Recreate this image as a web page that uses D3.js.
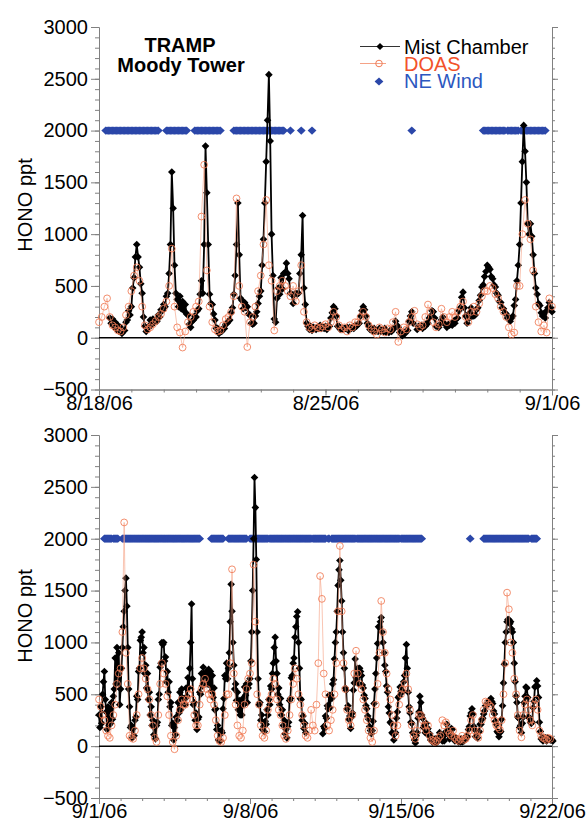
<!DOCTYPE html>
<html>
<head>
<meta charset="utf-8">
<script src="https://cdn.jsdelivr.net/npm/d3@7"></script>
<style>
  body { margin: 0; background: #fff; }
  svg { font-family: "Liberation Sans", Arial, Helvetica, sans-serif; }
</style>
</head>
<body>
<div id="chart"></div>
<script>
// ---- data: hourly mist chamber, 2-hourly DOAS, NE wind periods (hours from panel start) ----
const topStart = new Date(Date.UTC(2006, 7, 18));
const topEnd = new Date(Date.UTC(2006, 8, 1));
const topTickDates = [new Date(Date.UTC(2006, 7, 18)), new Date(Date.UTC(2006, 7, 25)), new Date(Date.UTC(2006, 8, 1))];
const topTickLabels = ["8/18/06", "8/25/06", "9/1/06"];

const topMist = [
  null,null,null,null,null,null,null,null,190,140,180,110,150,80,120,60,100,40,70,70,150,170,260,220,
  300,480,580,780,900,780,680,520,430,200,110,60,90,110,170,120,180,150,170,160,220,200,270,260,
  320,300,400,430,620,900,1600,1250,700,430,370,300,400,280,350,260,320,230,220,130,100,160,170,210,
  200,260,280,420,550,430,900,1850,1400,900,420,330,320,230,170,90,90,40,70,60,90,90,130,140,
  160,170,240,290,420,600,900,1300,800,380,360,280,340,290,300,230,220,140,130,140,210,250,330,400,
  450,700,950,1300,1700,2100,2540,1900,1000,600,180,150,380,480,420,580,470,620,630,720,620,570,430,420,
  330,420,430,420,430,620,800,1180,480,320,140,110,80,110,70,100,90,80,100,90,120,90,100,90,
  110,80,110,110,190,240,300,280,210,110,110,80,90,80,90,90,100,70,100,90,100,90,120,110,
  130,140,210,260,300,270,210,140,110,80,90,60,90,60,70,60,90,60,70,60,90,50,60,50,
  70,60,90,90,160,120,100,50,50,20,50,40,70,70,160,210,250,140,null,null,80,110,110,120,
  90,120,110,140,140,190,210,260,250,190,110,110,100,130,170,200,140,130,100,130,120,130,120,160,
  140,180,190,260,290,390,440,290,210,140,180,240,290,210,210,220,270,290,360,410,490,510,590,640,
  700,680,660,590,570,510,490,430,410,350,340,290,280,240,230,190,190,160,190,210,310,370,550,700,
  900,1300,1700,2050,1800,1500,1100,1000,1100,980,800,620,480,420,330,310,240,210,230,190,260,290,340,290,
  250
];

const topDoas = [
  150,200,300,380,200,120,100,70,60,100,220,300,
  450,600,680,550,300,120,80,100,130,160,200,230,
  280,350,500,860,300,100,50,-95,60,150,200,250,
  300,350,1170,1670,650,300,150,80,60,70,120,180,
  200,250,400,1345,500,300,250,-90,150,200,300,450,
  600,900,1330,700,550,70,450,500,550,500,450,400,
  500,350,450,700,250,150,100,80,120,100,90,110,
  130,100,150,250,200,120,80,100,60,120,100,150,
  150,200,250,200,120,90,60,30,100,80,50,90,
  80,150,250,-40,60,100,80,150,200,260,130,100,
  120,200,320,250,150,100,130,280,200,150,200,250,
  200,250,300,350,200,150,250,300,250,330,400,450,
  450,500,480,420,380,300,250,200,100,30,50,500,
  500,1000,1330,1100,950,650,300,150,60,120,50,380,
  300
];

const topWind = [[5,44],[50,65],[71,90],[100,137],[142,142],[150,150],[158,158],[232,232],[285,301],[303,311],[313,331]];

const botStart = new Date(Date.UTC(2006, 8, 1));
const botEnd = new Date(Date.UTC(2006, 8, 22));
const botTickDates = [new Date(Date.UTC(2006, 8, 1)), new Date(Date.UTC(2006, 8, 8)), new Date(Date.UTC(2006, 8, 15)), new Date(Date.UTC(2006, 8, 22))];
const botTickLabels = ["9/1/06", "9/8/06", "9/15/06", "9/22/06"];

const botMist = [
  300,180,380,220,500,620,720,450,330,160,380,200,350,220,420,260,480,550,850,600,950,650,900,400,
  550,750,950,1150,1300,1500,1620,1350,950,550,380,180,200,80,170,100,250,280,480,450,720,750,1020,1050,
  1100,900,950,700,780,560,700,450,520,300,380,200,250,110,180,70,200,230,450,500,760,800,1000,980,
  1000,820,860,620,720,520,620,380,420,200,220,60,180,110,280,250,420,320,520,350,550,420,460,450,
  400,560,480,660,560,750,1000,1370,650,400,420,250,320,160,260,280,520,500,700,580,760,600,700,600,
  720,600,740,590,720,530,680,470,560,350,360,160,200,60,140,50,150,130,360,460,680,650,800,650,
  750,900,1200,1560,1300,1000,780,550,600,440,520,350,440,300,390,300,460,400,570,490,600,420,560,600,
  650,820,1100,1500,2000,2590,2300,1800,1100,650,400,420,250,300,160,190,140,240,210,350,300,450,400,580,
  550,700,800,950,1050,820,700,500,560,400,460,300,350,200,250,120,160,80,190,230,440,460,660,680,
  800,850,1050,1150,1250,1296,1000,750,460,450,250,290,170,220,130,null,null,null,null,null,null,null,null,null,
  null,null,null,null,null,null,null,null,null,120,190,170,290,270,390,360,490,370,490,460,600,640,840,1000,
  1100,1300,1550,1700,1790,1600,1400,1100,900,750,560,540,360,390,260,290,170,280,320,540,610,840,660,640,
  750,600,750,720,680,590,560,490,460,390,360,290,260,190,150,120,150,240,410,550,700,850,990,1150,
  1150,1200,1240,1100,1000,900,780,720,580,520,380,320,230,220,130,120,60,120,130,270,330,470,480,570,
  530,520,530,620,680,850,980,750,520,380,320,230,220,130,120,60,30,100,130,270,330,480,420,300,
  270,180,200,130,220,160,170,100,120,60,80,40,60,40,70,30,40,50,90,130,90,90,50,60,
  50,110,140,210,140,110,70,130,170,160,90,90,50,80,70,70,40,50,40,70,40,50,50,80,
  70,100,90,160,190,290,320,360,310,190,160,90,90,80,130,140,210,210,260,270,310,340,390,390,
  410,410,440,430,460,430,410,340,310,240,210,140,130,90,130,140,260,390,610,790,1000,1100,1200,1220,
  1220,1180,1200,1130,1100,1000,800,620,480,420,280,270,180,200,130,220,280,420,480,570,560,470,280,270,
  230,220,230,370,430,570,580,630,580,470,230,140,70,80,50,80,70,80,50,80,70,70,60,60,
  60,50
];

const botDoas = [
  450,380,300,250,150,100,80,200,300,400,600,700,
  750,1100,2157,900,600,100,80,70,150,300,500,750,
  850,750,650,550,450,300,200,80,40,300,600,800,
  700,600,480,300,100,40,-30,100,250,350,450,400,
  400,450,500,550,450,300,200,200,400,550,600,650,
  550,500,450,500,400,250,100,50,40,80,300,500,
  500,800,1705,700,400,200,100,80,150,400,550,650,
  700,800,1750,1200,500,400,200,100,80,150,350,450,
  500,650,600,450,350,300,200,100,70,150,300,450,
  600,750,650,500,400,300,200,100,80,150,350,200,
  150,400,800,1640,1420,700,500,200,150,250,350,500,
  800,1300,1930,1300,800,550,350,250,200,300,700,920,
  700,600,550,450,350,250,150,80,40,150,400,600,
  900,1400,1100,900,700,550,450,300,200,100,200,400,
  500,550,600,700,550,350,200,100,70,150,300,300,
  250,200,150,200,100,60,50,40,50,80,100,250,
  200,230,150,120,100,150,80,60,50,70,100,60,
  70,100,150,250,300,150,100,80,150,250,350,430,
  420,400,380,300,250,200,180,160,250,500,800,1480,
  1320,1000,900,650,500,300,150,85,300,400,450,350,
  250,200,400,450,350,150,100,80,70,60,80,70
];

const botWind = [[6,14],[16,21],[26,112],[125,138],[144,164],[168,188],[190,236],[238,252],[255,256],[259,285],[287,334],[336,359],[413,413],[428,478],[481,487]];

const yMajor = [-500, 0, 500, 1000, 1500, 2000, 2500, 3000];
const windLevel = 2000;

// ---- drawing ----
const svg = d3.select('#chart').append('svg')
  .attr('width', 588)
  .attr('height', 821);

const diamond = (rx, ry) => `M0,${-ry}L${rx},0L0,${ry}L${-rx},0Z`;
const axisGrey = '#808080';

function styleAxis(sel) {
  sel.select('.domain').attr('stroke', axisGrey);
  sel.selectAll('.tick line').attr('stroke', axisGrey);
  sel.selectAll('.tick text')
    .attr('fill', '#000')
    .style('font-size', '20px')
    .style('font-family', '"Liberation Sans", Arial, sans-serif');
}

function drawPanel(p) {
  const x = d3.scaleUtc().domain([p.start, p.end]).range([99, 552]);
  const y = d3.scaleLinear().domain([-500, 3000]).range([p.yBottom, p.yTop]);
  const atHour = h => new Date(p.start.getTime() + h * 3600e3);
  const g = svg.append('g');

  // Ejes Y (izquierda con etiquetas, derecha espejo)
  g.append('g').attr('transform', 'translate(99,0)')
    .call(d3.axisLeft(y).tickValues(d3.range(-500, 3001, 100)).tickSize(4).tickSizeOuter(0).tickFormat(''))
    .call(styleAxis);
  g.append('g').attr('transform', 'translate(99,0)')
    .call(d3.axisLeft(y).tickValues(yMajor).tickSize(8).tickSizeOuter(0).tickPadding(3).tickFormat(d3.format('d')))
    .call(styleAxis);
  g.append('g').attr('transform', 'translate(552,0)')
    .call(d3.axisRight(y).tickValues(d3.range(-500, 3001, 100)).tickSize(3).tickSizeOuter(0).tickFormat(''))
    .call(styleAxis);
  g.append('g').attr('transform', 'translate(552,0)')
    .call(d3.axisRight(y).tickValues(yMajor).tickSize(6).tickSizeOuter(0).tickFormat(''))
    .call(styleAxis);

  // Eje X (días menores, fechas mayores)
  g.append('g').attr('transform', `translate(0,${p.yBottom})`)
    .call(d3.axisBottom(x).tickValues(d3.utcDay.range(p.start, p.end)).tickSize(3).tickSizeOuter(0).tickFormat(''))
    .call(styleAxis);
  g.append('g').attr('transform', `translate(0,${p.yBottom})`)
    .call(d3.axisBottom(x).tickValues(p.tickDates).tickSize(6).tickSizeOuter(0).tickPadding(0)
      .tickFormat((d, i) => p.tickLabels[i]))
    .call(styleAxis);

  // Línea de cero
  g.append('line')
    .attr('x1', x(p.start)).attr('x2', x(p.end))
    .attr('y1', y(0)).attr('y2', y(0))
    .attr('stroke', '#000')
    .attr('stroke-width', 1.5);

  // Viento NE
  const wind = [];
  p.wind.forEach(([a, b]) => d3.range(a, b + 1).forEach(h => wind.push(atHour(h))));
  g.append('g').selectAll('path')
    .data(wind)
    .enter().append('path')
    .attr('d', diamond(4.4, 4.1))
    .attr('transform', d => `translate(${x(d)},${y(windLevel)})`)
    .attr('fill', '#2b47a9');

  // Mist Chamber
  const mist = p.mist.map((v, i) => ({ t: atHour(i), v }));
  const line = d3.line()
    .defined(d => d.v != null)
    .x(d => x(d.t))
    .y(d => y(d.v));
  g.append('path')
    .datum(mist)
    .attr('d', line)
    .attr('fill', 'none')
    .attr('stroke', '#000')
    .attr('stroke-width', 1.8)
    .attr('stroke-linejoin', 'round');
  g.append('g').selectAll('path')
    .data(mist.filter(d => d.v != null))
    .enter().append('path')
    .attr('d', diamond(3.8, 3.8))
    .attr('transform', d => `translate(${x(d.t)},${y(d.v)})`)
    .attr('fill', '#000');

  // DOAS
  const doas = p.doas.map((v, i) => ({ t: atHour(2 * i), v }));
  g.append('path')
    .datum(doas)
    .attr('d', line)
    .attr('fill', 'none')
    .attr('stroke', '#f5a286')
    .attr('stroke-opacity', 0.7)
    .attr('stroke-width', 0.9);
  g.append('g').selectAll('circle')
    .data(doas)
    .enter().append('circle')
    .attr('cx', d => x(d.t))
    .attr('cy', d => y(d.v))
    .attr('r', 3.4)
    .attr('fill', 'none')
    .attr('stroke', '#f07a55')
    .attr('stroke-opacity', 0.85)
    .attr('stroke-width', 1);

  // Título del eje Y
  g.append('text')
    .attr('transform', `translate(32,${p.labelY}) rotate(-90)`)
    .attr('text-anchor', 'middle')
    .style('font-size', '20px')
    .text('HONO ppt');
}

drawPanel({ start: topStart, end: topEnd, tickDates: topTickDates, tickLabels: topTickLabels,
  mist: topMist, doas: topDoas, wind: topWind, yTop: 27, yBottom: 389.5, labelY: 205 });
drawPanel({ start: botStart, end: botEnd, tickDates: botTickDates, tickLabels: botTickLabels,
  mist: botMist, doas: botDoas, wind: botWind, yTop: 435, yBottom: 798, labelY: 616 });

// Título
const title = svg.append('g').attr('font-weight', 'bold').style('font-size', '20px').attr('text-anchor', 'middle');
title.append('text').attr('x', 180).attr('y', 51.5).text('TRAMP');
title.append('text').attr('x', 181).attr('y', 72).text('Moody Tower');

// Leyenda
const legend = svg.append('g').style('font-size', '20px');
legend.append('line').attr('x1', 360).attr('x2', 400).attr('y1', 46.5).attr('y2', 46.5).attr('stroke', '#333').attr('stroke-width', 1);
legend.append('path').attr('d', diamond(3.6, 3.6)).attr('transform', 'translate(380,46.5)').attr('fill', '#000');
legend.append('text').attr('x', 404).attr('y', 54).attr('fill', '#000').text('Mist Chamber');
legend.append('line').attr('x1', 360).attr('x2', 386).attr('y1', 63.5).attr('y2', 63.5).attr('stroke', '#f5a286').attr('stroke-width', 1);
legend.append('circle').attr('cx', 379).attr('cy', 63.5).attr('r', 3.3).attr('fill', 'none').attr('stroke', '#f07a55').attr('stroke-width', 1);
legend.append('text').attr('x', 404).attr('y', 71).attr('fill', '#f2522a').text('DOAS');
legend.append('path').attr('d', diamond(4.4, 4.1)).attr('transform', 'translate(379,81.5)').attr('fill', '#2b47a9');
legend.append('text').attr('x', 404).attr('y', 88).attr('fill', '#2c57c0').text('NE Wind');
</script>
</body>
</html>
